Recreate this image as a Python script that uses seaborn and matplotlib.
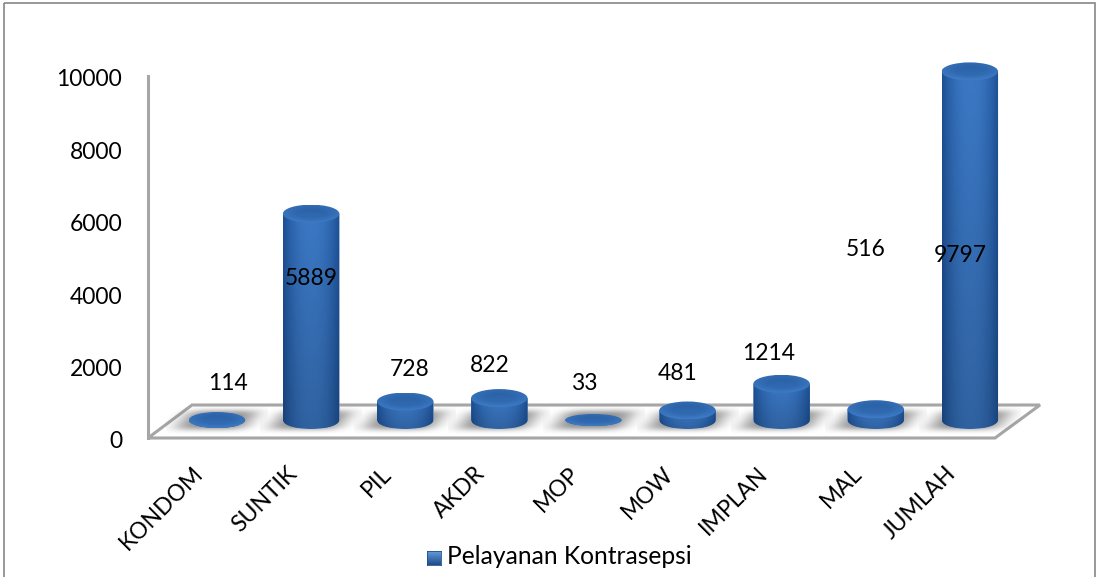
#!/usr/bin/env python3
"""Pelayanan Kontrasepsi: flat seaborn bars dressed up as Excel 3D cylinders."""

import matplotlib

matplotlib.use("Agg")
import matplotlib.pyplot as plt
import numpy as np
import pandas as pd
import seaborn as sns
from matplotlib.patches import Ellipse, Polygon, Rectangle
from matplotlib.path import Path
from matplotlib.transforms import Affine2D, ScaledTranslation

categories = ["KONDOM", "SUNTIK", "PIL", "AKDR", "MOP", "MOW", "IMPLAN", "MAL", "JUMLAH"]
values = [114, 5889, 728, 822, 33, 481, 1214, 516, 9797]
value_ticks = [0, 2000, 4000, 6000, 8000, 10000]
series_name = "Pelayanan Kontrasepsi"

W, H = 1099, 577
NUM_SIZE = 16.5
TEXT_SIZE = 17.7
PX_PER_UNIT = 0.0364   # bar height scale
BASELINE_PX = 428      # where value 0 falls for the bars
BASE_CENTER_PX = 420   # centre of the cylinder's foot on the floor
FIRST_X, STEP_X = 217.0, 94.1
BAR_WIDTH = 0.6

# label anchors in picture pixels, same order as the categories
label_px = [(228, 384), (311, 279), (410, 370), (490, 365), (584, 383),
            (678, 374), (769, 353), (866, 250), (960, 255)]


def px_box(left, top, right, bottom):
    return [left / W, 1 - bottom / H, (right - left) / W, (bottom - top) / H]


def px_shift(dx, dy):
    return ScaledTranslation(dx / 100, -dy / 100, fig.dpi_scale_trans)


def body_colors(ny=200, nx=80):
    """Cylinder side: dark at both edges, light down the middle, dark at the foot."""
    u = np.linspace(-1, 1, nx)
    edge = np.abs(u) ** 2.2
    dark = np.array([0.11, 0.31, 0.58])
    light = np.array([0.23, 0.47, 0.77])
    row = light[None, :] * (1 - edge[:, None]) + dark[None, :] * edge[:, None]
    shade = np.linspace(1, 0.82, ny)[:, None, None]
    return np.clip(row[None, :, :] * shade, 0, 1)


def top_colors(n=60):
    """Cap: darker centre with a lighter rim towards the front."""
    v, u = np.mgrid[-1:1:n * 1j, -1:1:n * 1j]
    r = np.sqrt(u ** 2 + v ** 2)
    t = np.clip(0.5 * (v + 1) * 0.5 + np.clip(r - 0.5, 0, 1) * 0.8, 0, 1)[:, :, None]
    dark = np.array([0.16, 0.37, 0.64])
    light = np.array([0.25, 0.50, 0.79])
    return dark * (1 - t) + light * t


def shadow_alpha(n=80):
    v, u = np.mgrid[-1:1:n * 1j, -1:1:n * 1j]
    skew = u + 0.22 * v
    a = np.exp(-(np.abs(skew) / 0.72) ** 4 - (np.abs(v) / 0.72) ** 4) * 0.78
    img = np.zeros((n, n, 4))
    img[..., :3] = 0.42
    img[..., 3] = a
    return img


sns.set_theme(style="white")
plt.rcParams["font.family"] = ["Lato", "DejaVu Sans"]

fig = plt.figure(figsize=(W / 100, H / 100), dpi=100)
to_fig = Affine2D().scale(1 / W, -1 / H).translate(0, 1) + fig.transFigure

# chart border and floor sit behind the axes
fig.add_artist(Rectangle((4, 3), 1091, 590, fill=False, ec="#868686", lw=1.2,
                         transform=to_fig, zorder=-2, clip_on=False))
fig.add_artist(Polygon([(148, 438), (995, 438), (1040, 405), (192, 405)], closed=True,
                       fc="white", ec="#a6a6a6", lw=2.2, transform=to_fig, zorder=-1))

# value axis
ax_val = fig.add_axes(px_box(148, 76, 1040, 438))
ax_val.patch.set_visible(False)
ax_val.set_ylim(0, 10000)
ax_val.set_yticks(value_ticks)
ax_val.set_xticks([])
ax_val.tick_params(axis="y", length=0, pad=18.5, labelsize=NUM_SIZE, labelcolor="black")
for label in ax_val.get_yticklabels():
    label.set_transform(label.get_transform() + px_shift(0, 2))
for side in ["top", "right", "bottom"]:
    ax_val.spines[side].set_visible(False)
ax_val.spines["left"].set_color("#a6a6a6")
ax_val.spines["left"].set_linewidth(2.2)

# bars get their own scale, the foot of the cylinders floats above the axis zero
AX_TOP, AX_BOTTOM = 40, 438
ax = fig.add_axes(px_box(148, AX_TOP, 1040, AX_BOTTOM))
ax.patch.set_visible(False)
df = pd.DataFrame({"category": categories, "value": values})
sns.barplot(data=df, x="category", y="value", color="#2c68b0", width=BAR_WIDTH,
            saturation=1, ax=ax, zorder=2)

base_y = (BASELINE_PX - BASE_CENTER_PX) / PX_PER_UNIT
body = body_colors()
cap = top_colors()
shadow = shadow_alpha()

for bar, val in zip(ax.patches, values):
    x0, x1 = bar.get_x(), bar.get_x() + bar.get_width()
    xc = 0.5 * (x0 + x1)
    ry_px = 9 if val > base_y else (8 if val > 100 else 6)
    ry = ry_px / PX_PER_UNIT
    top_y = max(val, base_y)

    ax.imshow(shadow, extent=(xc - 0.54, xc + 0.54, base_y - 14 / PX_PER_UNIT, base_y + 14 / PX_PER_UNIT),
              aspect="auto", origin="upper", zorder=1, interpolation="bilinear")

    # outline of the side wall with a rounded foot
    t = np.linspace(np.pi, 2 * np.pi, 40)
    foot = np.column_stack([xc + 0.5 * BAR_WIDTH * np.cos(t), base_y + ry * np.sin(t)])
    outline = np.vstack([[(x0, top_y)], foot, [(x1, top_y)], [(x0, top_y)]])
    wall = Path(outline)
    bar.set_clip_path(wall, ax.transData)
    im = ax.imshow(body, extent=(x0, x1, base_y - ry, top_y), aspect="auto", origin="upper",
                   zorder=2.5, interpolation="bilinear")
    im.set_clip_path(wall, ax.transData)

    lid = Ellipse((xc, top_y), BAR_WIDTH, 2 * ry, transform=ax.transData, fc="none", ec="none")
    ax.add_patch(lid)
    im_top = ax.imshow(cap, extent=(x0, x1, top_y - ry, top_y + ry), aspect="auto", origin="upper",
                       zorder=3, interpolation="bilinear")
    im_top.set_clip_path(lid)

ax.set_xlim((148 - FIRST_X) / STEP_X, (1040 - FIRST_X) / STEP_X)
ax.set_ylim(-(AX_BOTTOM - BASELINE_PX) / PX_PER_UNIT, (BASELINE_PX - AX_TOP) / PX_PER_UNIT)
ax.set_yticks([])
ax.set_xlabel("")
ax.set_ylabel("")
ax.set_xticks(range(len(categories)))
ax.set_xticklabels(categories, rotation=45, ha="right", rotation_mode="anchor", fontsize=NUM_SIZE)
ax.tick_params(axis="x", length=0, pad=20, labelcolor="black")
for label in ax.get_xticklabels():
    label.set_transform(label.get_transform() + px_shift(-25, -3))
for spine in ax.spines.values():
    spine.set_visible(False)

for val, (lx, ly) in zip(values, label_px):
    fig.text(lx / W, 1 - ly / H, str(val), ha="center", va="center",
             fontsize=NUM_SIZE, color="black", zorder=5)

# legend: swatch carries the same gradient as the bars
ax_key = fig.add_axes(px_box(427, 551, 441, 565))
ax_key.imshow(np.linspace([0.42, 0.63, 0.88], [0.12, 0.30, 0.55], 20)[:, None, :], aspect="auto")
ax_key.set_xticks([])
ax_key.set_yticks([])
for spine in ax_key.spines.values():
    spine.set_color("#1f4f8f")
    spine.set_linewidth(0.6)
fig.text(447 / W, 1 - 557 / H, series_name, ha="left", va="center", fontsize=TEXT_SIZE, color="black")

fig.savefig("out.png", dpi=100)
